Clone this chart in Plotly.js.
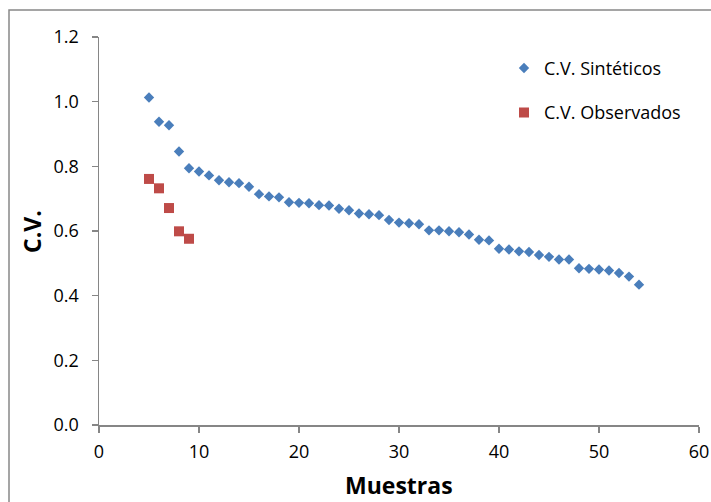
<!DOCTYPE html>
<html>
<head>
<meta charset="utf-8">
<script src="https://cdn.plot.ly/plotly-3.0.1.min.js"></script>
<style>html,body{margin:0;padding:0;background:#fff;}#chart{width:711px;height:502px;}</style>
</head>
<body>
<div id="chart"></div>
<script>
const sintX = [5,6,7,8,9,10,11,12,13,14,15,16,17,18,19,20,21,22,23,24,25,26,27,28,29,30,31,32,33,34,35,36,37,38,39,40,41,42,43,44,45,46,47,48,49,50,51,52,53,54];
const sintY = [1.013,0.938,0.927,0.846,0.794,0.784,0.772,0.757,0.751,0.748,0.737,0.714,0.707,0.704,0.689,0.687,0.686,0.680,0.679,0.669,0.664,0.654,0.652,0.649,0.634,0.626,0.624,0.621,0.602,0.602,0.599,0.596,0.589,0.573,0.571,0.545,0.543,0.537,0.535,0.526,0.520,0.512,0.512,0.485,0.483,0.481,0.478,0.470,0.459,0.434];
const obsX = [5,6,7,8,9];
const obsY = [0.761,0.732,0.671,0.599,0.576];
const seriesNames = ["C.V. Sintéticos","C.V. Observados"];
const xTitle = "Muestras";
const yTitle = "C.V.";

const FONT = "'Open Sans', 'Liberation Sans', sans-serif";
const AX = "#868686";

const traces = [
  {x: sintX, y: sintY, type: "scatter", mode: "markers", name: seriesNames[0], legendgroup: "a",
   marker: {symbol: "diamond", size: 8, color: "#4A7EBB"}},
  {x: obsX, y: obsY, type: "scatter", mode: "markers", name: seriesNames[1], legendgroup: "b",
   marker: {symbol: "square", size: 10, color: "#BE4B48"}}
];

const layout = {
  width: 711, height: 502,
  margin: {l: 99, r: 12, t: 37, b: 77},
  paper_bgcolor: "#fff", plot_bgcolor: "#fff",
  font: {family: FONT, size: 18, color: "#000"},
  showlegend: true,
  legend: {x: 0.675, y: 0.967, xanchor: "left", yanchor: "top", traceorder: "grouped", tracegroupgap: 18,
           font: {family: FONT, size: 18, color: "#000"}, bgcolor: "rgba(0,0,0,0)"},
  xaxis: {range: [0, 60], dtick: 10, tick0: 0, showgrid: false, zeroline: false,
          showline: true, linecolor: AX, linewidth: 1.5, ticks: "outside", ticklen: 6, tickcolor: AX, tickwidth: 1.5,
          ticklabelstandoff: 4,
          tickfont: {family: FONT, size: 18, color: "#000"}},
  yaxis: {range: [0, 1.2], dtick: 0.2, tick0: 0, tickformat: ".1f", showgrid: false, zeroline: false,
          showline: true, linecolor: AX, linewidth: 1.5, ticks: "outside", ticklen: 6, tickcolor: AX, tickwidth: 1.5,
          ticklabelstandoff: 9,
          tickfont: {family: FONT, size: 18, color: "#000"}},
  annotations: [
    {text: "<b>" + xTitle + "</b>", xref: "paper", yref: "paper", x: 0.5, y: -0.155, showarrow: false,
     xanchor: "center", yanchor: "middle", font: {family: FONT, size: 23, color: "#000"}},
    {text: "<b>" + yTitle + "</b>", xref: "paper", yref: "paper", x: -0.1117, y: 0.5, showarrow: false,
     textangle: -90, xanchor: "center", yanchor: "middle", font: {family: FONT, size: 23, color: "#000"}}
  ],
  shapes: [
    {type: "rect", xref: "paper", yref: "paper", x0: -0.15, x1: 1.03, y0: -0.21, y1: 1.0696,
     line: {color: "#888888", width: 1.5}, fillcolor: "rgba(0,0,0,0)", layer: "below"}
  ]
};

Plotly.newPlot("chart", traces, layout, {displayModeBar: false, staticPlot: true});
</script>
</body>
</html>
